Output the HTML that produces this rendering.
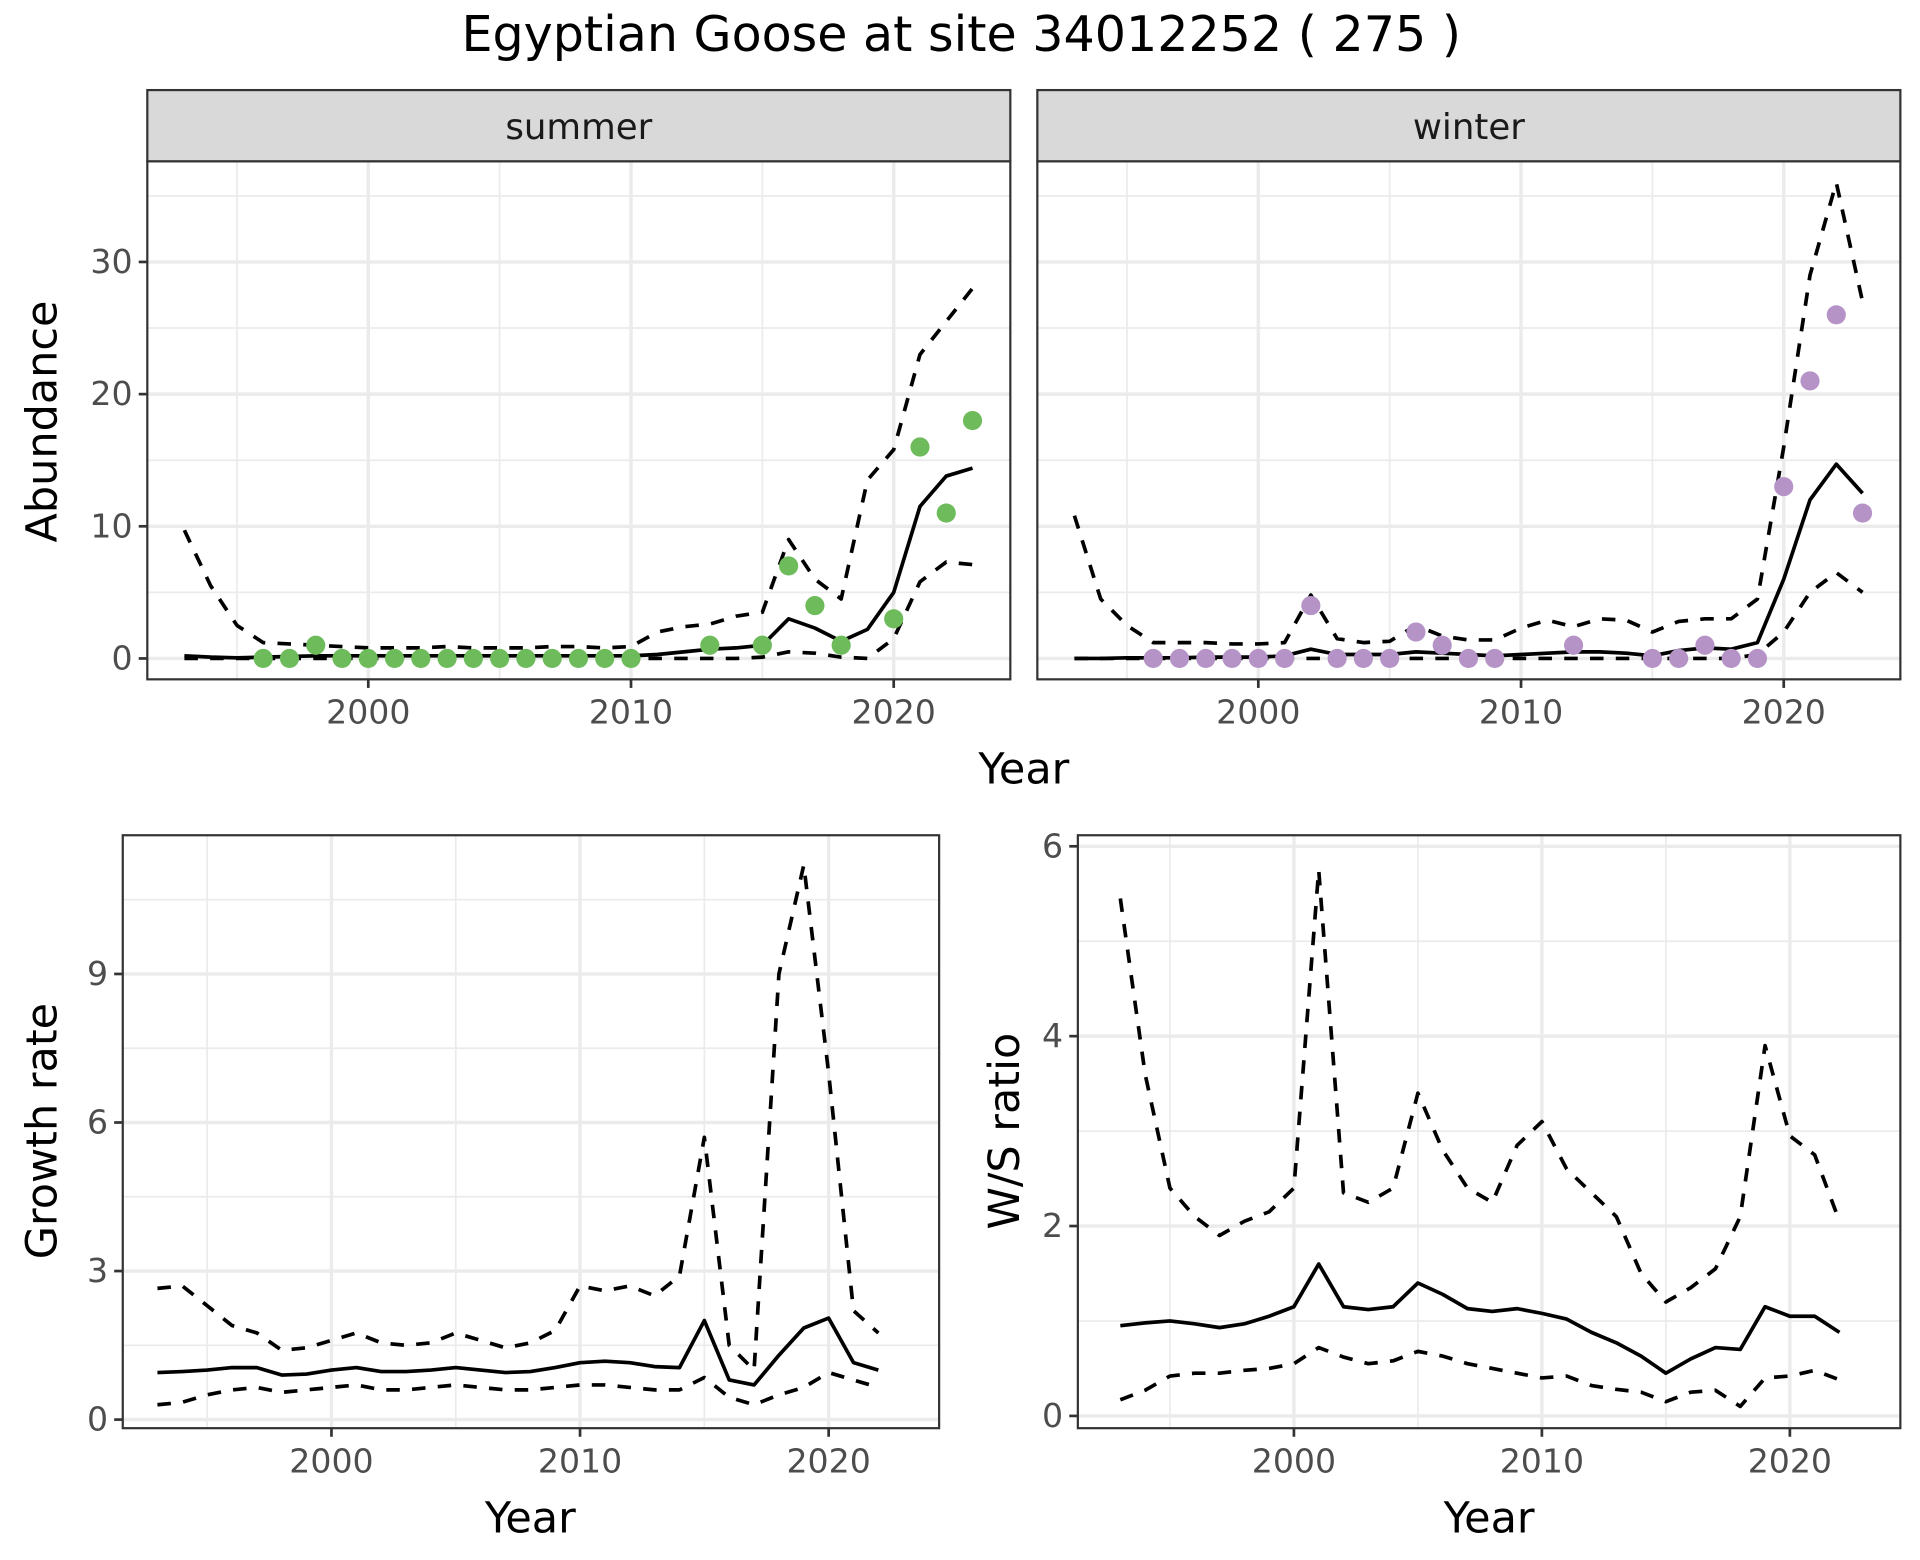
<!DOCTYPE html>
<html><head><meta charset="utf-8"><style>
html,body{margin:0;padding:0;background:#fff}
svg{display:block}
text{font-family:"DejaVu Sans","Liberation Sans",sans-serif}
</style></head><body>
<svg id="chart" width="1920" height="1560" viewBox="0 0 1564 1270" xmlns="http://www.w3.org/2000/svg">
<text x="783" y="41" font-size="40" text-anchor="middle" fill="#000">Egyptian Goose at site 34012252 ( 275 )</text>
<g id="root"></g>
</svg>
<script>
// ---- data ----
const yearsTop = [1993,1994,1995,1996,1997,1998,1999,2000,2001,2002,2003,2004,2005,2006,2007,2008,2009,2010,2011,2012,2013,2014,2015,2016,2017,2018,2019,2020,2021,2022,2023];
const summerMean = [0.2,0.1,0.05,0.1,0.15,0.2,0.2,0.2,0.2,0.2,0.2,0.2,0.2,0.2,0.2,0.2,0.2,0.2,0.3,0.5,0.7,0.8,1.0,3.0,2.3,1.3,2.2,5.0,11.5,13.8,14.4];
const summerUpper = [9.7,5.5,2.5,1.2,1.1,1.0,0.9,0.8,0.8,0.8,0.9,0.8,0.8,0.8,0.9,0.9,0.8,0.9,2.0,2.4,2.6,3.2,3.5,9.0,6.0,4.5,13.5,15.8,23,25.5,28];
const summerLower = [0,0,0,0,0,0,0,0,0,0,0,0,0,0,0,0,0,0,0,0,0,0,0.1,0.5,0.4,0.1,0,1.5,5.8,7.3,7.1];
const summerPtYears = [1996,1997,1998,1999,2000,2001,2002,2003,2004,2005,2006,2007,2008,2009,2010,2013,2015,2016,2017,2018,2020,2021,2022,2023];
const summerPtVals = [0,0,1,0,0,0,0,0,0,0,0,0,0,0,0,1,1,7,4,1,3,16,11,18];
const winterMean = [0,0,0.05,0.05,0.05,0.1,0.1,0.1,0.2,0.7,0.3,0.3,0.3,0.5,0.4,0.3,0.2,0.3,0.4,0.5,0.5,0.4,0.2,0.6,0.8,0.7,1.2,6,12,14.7,12.5];
const winterUpper = [10.8,4.5,2.5,1.2,1.2,1.2,1.1,1.1,1.2,4.8,1.5,1.2,1.3,2.5,1.7,1.4,1.4,2.3,2.9,2.4,3.0,2.9,2.0,2.8,3.0,3.0,4.5,16,29,36,27];
const winterLower = [0,0,0,0,0,0,0,0,0,0,0,0,0,0,0,0,0,0,0,0,0,0,0,0,0,0,0.3,2,5,6.5,5];
const winterPtYears = [1996,1997,1998,1999,2000,2001,2002,2003,2004,2005,2006,2007,2008,2009,2012,2015,2016,2017,2018,2019,2020,2021,2022,2023];
const winterPtVals = [0,0,0,0,0,0,4,0,0,0,2,1,0,0,1,0,0,1,0,0,13,21,26,11];
const yearsBot = [1993,1994,1995,1996,1997,1998,1999,2000,2001,2002,2003,2004,2005,2006,2007,2008,2009,2010,2011,2012,2013,2014,2015,2016,2017,2018,2019,2020,2021,2022];
const growthMean = [0.95,0.97,1.0,1.05,1.05,0.9,0.92,1.0,1.05,0.97,0.97,1.0,1.05,1.0,0.95,0.97,1.05,1.15,1.18,1.15,1.07,1.05,2.0,0.8,0.7,1.3,1.85,2.05,1.15,1.0];
const growthUpper = [2.65,2.7,2.3,1.9,1.75,1.4,1.45,1.6,1.75,1.55,1.5,1.55,1.75,1.6,1.45,1.55,1.8,2.7,2.6,2.7,2.5,2.9,5.7,1.5,1.0,9.0,11.2,7.0,2.2,1.75];
const growthLower = [0.3,0.35,0.5,0.6,0.65,0.55,0.6,0.65,0.7,0.6,0.6,0.65,0.7,0.65,0.6,0.6,0.65,0.7,0.7,0.65,0.6,0.6,0.85,0.45,0.3,0.5,0.65,0.95,0.8,0.65];
const ratioMean = [0.95,0.98,1.0,0.97,0.93,0.97,1.05,1.15,1.6,1.15,1.12,1.15,1.4,1.28,1.13,1.1,1.13,1.08,1.02,0.88,0.77,0.63,0.45,0.6,0.72,0.7,1.15,1.05,1.05,0.88];
const ratioUpper = [5.45,3.6,2.4,2.1,1.9,2.05,2.15,2.4,5.75,2.35,2.25,2.4,3.4,2.8,2.4,2.25,2.85,3.1,2.6,2.35,2.1,1.5,1.2,1.35,1.55,2.1,3.9,2.95,2.75,2.05];
const ratioLower = [0.17,0.27,0.42,0.45,0.45,0.48,0.5,0.55,0.72,0.62,0.55,0.58,0.68,0.63,0.55,0.5,0.45,0.4,0.42,0.32,0.28,0.25,0.15,0.25,0.27,0.1,0.4,0.42,0.48,0.38];
const xTickLabels = [2000,2010,2020];
const xMinor = [1995,2005,2015];
const abTicks = [0,10,20,30];
const abMinor = [5,15,25,35];
const grTicks = [0,3,6,9];
const grMinor = [1.5,4.5,7.5,10.5];
const raTicks = [0,2,4,6];
const raMinor = [1,3,5];

const NS = "http://www.w3.org/2000/svg";
const root = document.getElementById('root');
function el(tag, attrs, parent, txt){
  const e = document.createElementNS(NS, tag);
  for (const k in attrs) e.setAttribute(k, attrs[k]);
  if (txt !== undefined) e.textContent = txt;
  (parent||root).appendChild(e);
  return e;
}
function lin(d0,d1,r0,r1){ return v => r0 + (v-d0)*(r1-r0)/(d1-d0); }

function panel(name, box, xs, ys, yTicks, yMinor, showY){
  const g = el('g', {});
  
  
  el('rect', {x:box.x0, y:box.y0, width:box.x1-box.x0, height:box.y1-box.y0, fill:'#fff'}, g);
  xMinor.forEach(v=>{ const l=el('line',{x1:xs(v),x2:xs(v),y1:box.y0,y2:box.y1,stroke:'#ebebeb','stroke-width':1.4},g);   });
  yMinor.forEach(v=>{ const y=ys(v); if(y<box.y0||y>box.y1) return; const l=el('line',{x1:box.x0,x2:box.x1,y1:y,y2:y,stroke:'#ebebeb','stroke-width':1.4},g);   });
  xTickLabels.forEach(v=>{ const l=el('line',{x1:xs(v),x2:xs(v),y1:box.y0,y2:box.y1,stroke:'#ebebeb','stroke-width':2.8},g);   });
  yTicks.forEach(v=>{ const l=el('line',{x1:box.x0,x2:box.x1,y1:ys(v),y2:ys(v),stroke:'#ebebeb','stroke-width':2.8},g);   });
  xTickLabels.forEach(v=>{
    const t=el('line',{x1:xs(v),x2:xs(v),y1:box.y1,y2:box.y1+7,stroke:'#333','stroke-width':2.2},g);
     
    const tx=el('text',{x:xs(v),y:box.y1+36,'font-size':27,'text-anchor':'middle',fill:'#4d4d4d'},g,String(v));
     
  });
  if(showY) yTicks.forEach(v=>{
    const t=el('line',{x1:box.x0-7,x2:box.x0,y1:ys(v),y2:ys(v),stroke:'#333','stroke-width':2.2},g);
     
    const tx=el('text',{x:box.x0-12,y:ys(v)+9,'font-size':27,'text-anchor':'end',fill:'#4d4d4d'},g,String(v));
     
  });
  return g;
}
function line(g, xs, ys, xv, yv, dashed, name){
  const d = xv.map((x,i)=>(i?'L':'M')+xs(x).toFixed(2)+','+ys(yv[i]).toFixed(2)).join('');
  const p = el('path',{d:d,fill:'none',stroke:'#000','stroke-width':3,'stroke-dasharray':dashed?'11,10':'none','stroke-linejoin':'round'},g);
  
  
}
function pts(g, xs, ys, xv, yv, color, name){
  xv.forEach((x,i)=>{
    const c=el('circle',{cx:xs(x),cy:ys(yv[i]),r:7.8,fill:color},g);
    
    
  });
}
function border(g, box){
  el('rect',{x:box.x0,y:box.y0,width:box.x1-box.x0,height:box.y1-box.y0,fill:'none',stroke:'#333','stroke-width':1.8},g);
}
function strip(g, box, label, name){
  const r=el('rect',{x:box.x0,y:73,width:box.x1-box.x0,height:box.y0-73,fill:'#d9d9d9',stroke:'#333','stroke-width':1.8},g);
  
  
  const t=el('text',{x:(box.x0+box.x1)/2,y:113,'font-size':29,'text-anchor':'middle',fill:'#1a1a1a'},g,label);
  
  
}

// Summer
const bS={x0:120,x1:823,y0:131,y1:553};
const xS=lin(2000,2020,300,728), yA=lin(0,30,536,213);
const gS=panel('summer-panel',bS,xS,yA,abTicks,abMinor,true);
line(gS,xS,yA,yearsTop,summerUpper,true,'summer-upper-line');
line(gS,xS,yA,yearsTop,summerLower,true,'summer-lower-line');
line(gS,xS,yA,yearsTop,summerMean,false,'summer-mean-line');
pts(gS,xS,yA,summerPtYears,summerPtVals,'#6dbb5a','summer-point');
border(gS,bS); strip(gS,bS,'summer','summer-strip');

// Winter
const bW={x0:845,x1:1548,y0:131,y1:553};
const xW=lin(2000,2020,1025,1453);
const gW=panel('winter-panel',bW,xW,yA,abTicks,abMinor,false);
line(gW,xW,yA,yearsTop,winterUpper,true,'winter-upper-line');
line(gW,xW,yA,yearsTop,winterLower,true,'winter-lower-line');
line(gW,xW,yA,yearsTop,winterMean,false,'winter-mean-line');
pts(gW,xW,yA,winterPtYears,winterPtVals,'#b593c7','winter-point');
border(gW,bW); strip(gW,bW,'winter','winter-strip');

// Growth
const bG={x0:100,x1:765,y0:680,y1:1163};
const xG=lin(2000,2020,270,675), yG=lin(0,9,1156,793);
const gG=panel('growth-panel',bG,xG,yG,grTicks,grMinor,true);
line(gG,xG,yG,yearsBot,growthUpper,true,'growth-upper-line');
line(gG,xG,yG,yearsBot,growthLower,true,'growth-lower-line');
line(gG,xG,yG,yearsBot,growthMean,false,'growth-mean-line');
border(gG,bG);

// Ratio
const bR={x0:878,x1:1548,y0:680,y1:1163};
const xR=lin(2000,2020,1054,1458), yR=lin(0,6,1153,689);
const gR=panel('ratio-panel',bR,xR,yR,raTicks,raMinor,true);
line(gR,xR,yR,yearsBot,ratioUpper,true,'ratio-upper-line');
line(gR,xR,yR,yearsBot,ratioLower,true,'ratio-lower-line');
line(gR,xR,yR,yearsBot,ratioMean,false,'ratio-mean-line');
border(gR,bR);

// Axis titles
function title(x,y,txt,rot,name){
  const t=el('text',{x:x,y:y,'font-size':35,'text-anchor':'middle',fill:'#000',transform:rot?`rotate(-90 ${x} ${y})`:''},root,txt);
  
  
}
title(834,638,'Year',false,'top-x-axis-title');
title(46,343,'Abundance',true,'abundance-y-axis-title');
title(432,1248,'Year',false,'growth-x-axis-title');
title(46,921,'Growth rate',true,'growth-y-axis-title');
title(1213,1248,'Year',false,'ratio-x-axis-title');
title(830,921,'W/S ratio',true,'ratio-y-axis-title');
</script>
</body></html>
